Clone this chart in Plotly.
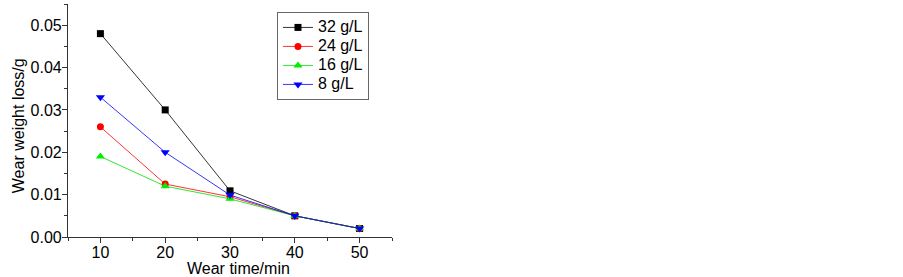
import plotly.graph_objects as go

time_min = [10, 20, 30, 40, 50]
series_names = ["32 g/L", "24 g/L", "16 g/L", "8 g/L"]
loss_32 = [0.048, 0.030, 0.0109, 0.005, 0.002]
loss_24 = [0.026, 0.0125, 0.0095, 0.005, 0.002]
loss_16 = [0.019, 0.012, 0.009, 0.005, 0.002]
loss_8 = [0.033, 0.020, 0.0099, 0.005, 0.002]
x_title = "Wear time/min"
y_title = "Wear weight loss/g"

styles = [
    ("#000000", "#000000", "square", 7),
    ("#ff0000", "#ff0000", "circle", 7),
    ("#00dd00", "#00ee00", "triangle-up", 8),
    ("#0000ff", "#0000ff", "triangle-down", 8),
]
data = [loss_32, loss_24, loss_16, loss_8]

fig = go.Figure()
for name, ys, (lc, mc, sym, ms) in zip(series_names, data, styles):
    fig.add_trace(go.Scatter(
        x=time_min, y=ys, name=f"<span style='font-size:16px'>{name}</span>",
        mode="lines+markers",
        line=dict(color=lc, width=0.8),
        marker=dict(color=mc, symbol=sym, size=ms),
    ))

axis_common = dict(
    showline=True, linecolor="#333", linewidth=1.2, mirror=False,
    ticks="outside", ticklen=5, tickwidth=1.2, tickcolor="#333",
    showgrid=False, zeroline=False, automargin=False,
    tickfont=dict(family="Liberation Sans, Arial", size=16, color="#000"),
    minor=dict(ticks="outside", ticklen=3, tickwidth=1, tickcolor="#333"),
)

fig.update_layout(
    width=903, height=277,
    margin=dict(l=68, r=511, t=4, b=40, autoexpand=False),
    paper_bgcolor="white", plot_bgcolor="white",
    font=dict(family="Liberation Sans, Arial", size=16, color="#000"),
    xaxis=dict(range=[5, 55], tickvals=[10, 20, 30, 40, 50],
               ticklabelstandoff=-4, **axis_common),
    yaxis=dict(range=[0, 0.055], tickvals=[0, 0.01, 0.02, 0.03, 0.04, 0.05],
               tickformat=".2f", ticklabelstandoff=-3, **axis_common),
    legend=dict(x=0.645, y=0.966, xanchor="left", yanchor="top",
                bordercolor="#666", borderwidth=1, bgcolor="white",
                font=dict(size=11), tracegroupgap=0, itemwidth=30,
                traceorder="normal"),
    annotations=[
        dict(text=x_title, xref="paper", yref="paper", x=0.5247, y=-0.137,
             xanchor="center", yanchor="middle", showarrow=False,
             font=dict(size=16)),
        dict(text=y_title, xref="paper", yref="paper", x=-0.154, y=0.476,
             xanchor="center", yanchor="middle", showarrow=False,
             textangle=-90, font=dict(size=16)),
    ],
)
fig.update_xaxes(minor_dtick=5)
fig.update_yaxes(minor_dtick=0.005)

fig.write_html("out.html", config={"displayModeBar": False},
               post_script="document.body.style.margin='0';")
